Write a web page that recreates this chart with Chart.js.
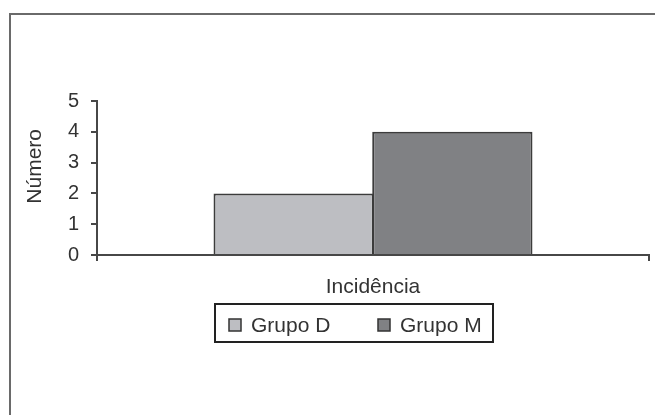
<!DOCTYPE html>
<html>
<head>
<meta charset="utf-8">
<script src="https://cdn.jsdelivr.net/npm/chart.js@4/dist/chart.umd.min.js"></script>
<style>
  html, body { margin: 0; padding: 0; background: #ffffff; }
  canvas { display: block; }
</style>
</head>
<body>
<canvas id="chart" width="655" height="415"></canvas>
<script>
// Chart data
const categories = ['Incidência'];
const seriesNames = ['Grupo D', 'Grupo M'];
const grupoD = [2];
const grupoM = [4];
const yTicks = [0, 1, 2, 3, 4, 5];

const fillColors = ['#bdbec2', '#808184'];
const axisColor = '#474747';
const textColor = '#333333';
const fontFamily = '"Liberation Sans", Arial, Helvetica, sans-serif';

// Draws the outer frame and the boxed legend underneath the axis label
const framePlugin = {
  id: 'frameAndLegend',
  afterDraw(chart) {
    const ctx = chart.ctx;
    ctx.save();
    // outer frame (left and top edges)
    ctx.strokeStyle = '#6a6a6a';
    ctx.lineWidth = 2;
    ctx.beginPath();
    ctx.moveTo(10, 415);
    ctx.lineTo(10, 14);
    ctx.lineTo(655, 14);
    ctx.stroke();

    // legend box
    ctx.strokeStyle = '#222222';
    ctx.lineWidth = 2;
    ctx.strokeRect(215, 304, 278, 38);

    const items = [
      { box: 229, text: 251 },
      { box: 378, text: 400 }
    ];
    ctx.font = '21px ' + fontFamily;
    ctx.textBaseline = 'alphabetic';
    ctx.textAlign = 'left';
    chart.data.datasets.forEach((ds, i) => {
      const it = items[i];
      ctx.fillStyle = ds.backgroundColor;
      ctx.fillRect(it.box, 319, 12, 12);
      ctx.strokeStyle = '#333333';
      ctx.lineWidth = 1.5;
      ctx.strokeRect(it.box, 319, 12, 12);
      ctx.fillStyle = textColor;
      ctx.fillText(ds.label, it.text, 332);
    });
    ctx.restore();
  }
};

new Chart(document.getElementById('chart'), {
  type: 'bar',
  data: {
    labels: categories,
    datasets: [
      {
        label: seriesNames[0],
        data: grupoD,
        backgroundColor: fillColors[0],
        borderColor: '#3c3c3c',
        borderWidth: 2
      },
      {
        label: seriesNames[1],
        data: grupoM,
        backgroundColor: fillColors[1],
        borderColor: '#3c3c3c',
        borderWidth: 2
      }
    ]
  },
  options: {
    responsive: false,
    animation: false,
    devicePixelRatio: 1,
    layout: { padding: { top: 101, right: 6, bottom: 0, left: 0 } },
    datasets: {
      bar: { categoryPercentage: 0.575, barPercentage: 1.01 }
    },
    plugins: {
      legend: { display: false },
      tooltip: { enabled: false }
    },
    scales: {
      x: {
        grid: {
          display: true,
          drawOnChartArea: false,
          drawTicks: true,
          tickLength: 6,
          color: axisColor,
          lineWidth: 2
        },
        border: { display: true, color: axisColor, width: 2 },
        ticks: {
          color: textColor,
          font: { family: fontFamily, size: 21 },
          padding: 14
        },
        afterFit(scale) { scale.height = 160; }
      },
      y: {
        min: 0,
        max: 5,
        afterBuildTicks(scale) { scale.ticks = yTicks.map(v => ({ value: v })); },
        grid: {
          display: true,
          drawOnChartArea: false,
          drawTicks: true,
          tickLength: 6,
          color: axisColor,
          lineWidth: 2
        },
        border: { display: true, color: axisColor, width: 2 },
        ticks: {
          color: textColor,
          font: { family: fontFamily, size: 20 },
          padding: 12
        },
        title: {
          display: true,
          // leading spaces lift the rotated title slightly above the axis middle
          text: '    Número',
          color: textColor,
          font: { family: fontFamily, size: 21 },
          padding: { top: 23, bottom: 0 }
        },
        afterFit(scale) { scale.width = 97; }
      }
    }
  },
  plugins: [framePlugin]
});
</script>
</body>
</html>
